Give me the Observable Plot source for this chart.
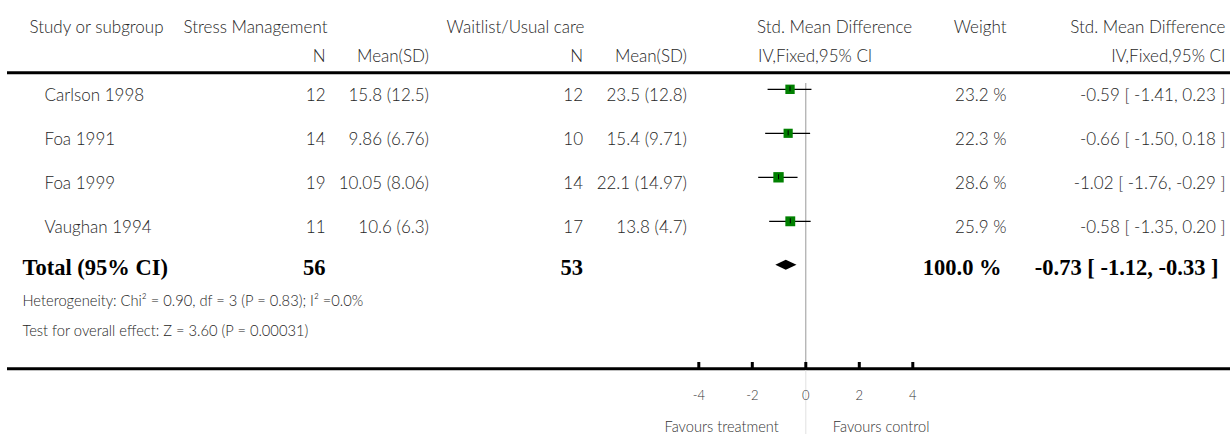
<!DOCTYPE html>
<html><head><meta charset="utf-8">
<script src="https://cdn.jsdelivr.net/npm/d3@7"></script>
<script src="https://cdn.jsdelivr.net/npm/@observablehq/plot@0.6"></script>
<style>
body{margin:0;background:#fff;}
g[aria-label="num"] text{letter-spacing:0.9px;}
g[aria-label="numbold"] text{letter-spacing:1.2px;}
</style>
</head><body><div id="chart"></div>
<script>
// ---- data ----
const studies = ["Carlson 1998", "Foa 1991", "Foa 1999", "Vaughan 1994"];
const expN = [12, 14, 19, 11];
const expMeanSD = ["15.8 (12.5)", "9.86 (6.76)", "10.05 (8.06)", "10.6 (6.3)"];
const ctrlN = [12, 10, 14, 17];
const ctrlMeanSD = ["23.5 (12.8)", "15.4 (9.71)", "22.1 (14.97)", "13.8 (4.7)"];
const smd = [-0.59, -0.66, -1.02, -0.58];
const ciLow = [-1.41, -1.50, -1.76, -1.35];
const ciHigh = [0.23, 0.18, -0.29, 0.20];
const weights = [23.2, 22.3, 28.6, 25.9];
const totalLabel = "Total (95% CI)";
const totalExpN = 56;
const totalCtrlN = 53;
const totalSMD = -0.73, totalLow = -1.12, totalHigh = -0.33;
const totalWeight = 100.0;
const heterogeneity = "Heterogeneity: Chi² = 0.90, df = 3 (P = 0.83); I² =0.0%";
const overallEffect = "Test for overall effect: Z = 3.60 (P = 0.00031)";
const xTicks = [-4, -2, 0, 2, 4];
const favoursLeft = "Favours treatment";
const favoursRight = "Favours control";
const header1 = {study: "Study or subgroup", exp: "Stress Management", ctrl: "Waitlist/Usual care", smd: "Std. Mean Difference", weight: "Weight"};
const header2 = {n: "N", mean: "Mean(SD)", method: "IV,Fixed,95% CI"};

// ---- layout ----
const W = 1230, H = 434, ML = 7;
const zeroPx = 805.3, pxPerUnit = 26.75;
const row0 = 88.8, rowStep = 44;
const py = px => (px - row0) / rowStep;
const fmt2 = v => v.toFixed(2);
const ciText = (e, l, h) => `${fmt2(e)} [ ${fmt2(l)}, ${fmt2(h)} ]`;

const rows = studies.map((s, i) => ({
  i, study: s, expN: expN[i], expM: expMeanSD[i], ctrlN: ctrlN[i], ctrlM: ctrlMeanSD[i],
  smd: smd[i], lo: ciLow[i], hi: ciHigh[i], w: weights[i],
  wText: weights[i].toFixed(1) + " %", ci: ciText(smd[i], ciLow[i], ciHigh[i])
}));
const totalRow = rows.length;

const sans = "Lato, 'Open Sans', sans-serif";
const serif = "'Liberation Serif', 'Times New Roman', serif";
const txtColor = "#262626";

// text column helper: px is left (start) or right (end) edge in pixels
function col(data, text, px, anchor, yVal, dy, extra = {}) {
  return Plot.text(data, {
    text, y: yVal, frameAnchor: "left", dx: px - ML, dy,
    textAnchor: anchor, lineAnchor: "bottom", fill: txtColor,
    fontSize: 17, fontFamily: sans, fontWeight: 300, ...extra
  });
}

const rowY = d => d.i;
const bold = {fontFamily: serif, fontWeight: "bold", fontSize: 22.5, fill: "#000"};
const num = {ariaLabel: "num"};
const numBold = {...bold, ariaLabel: "numbold"};

const diamond = [
  {x: totalLow, y1: totalRow, y2: totalRow},
  {x: totalSMD, y1: totalRow - 5 / rowStep, y2: totalRow + 5 / rowStep},
  {x: totalHigh, y1: totalRow, y2: totalRow}
];

const chart = Plot.plot({
  width: W, height: H,
  marginLeft: ML, marginRight: 0, marginTop: 0, marginBottom: 0,
  x: {domain: [(ML - zeroPx) / pxPerUnit, (W - zeroPx) / pxPerUnit], axis: null},
  y: {domain: [py(0), py(H)], reverse: true, axis: null},
  r: {domain: [0, 30], range: [0, 6]},
  style: {fontFamily: sans, background: "#fff"},
  marks: [
    // header texts
    col([header1], d => d.study, 29, "start", py(32), 0),
    col([header1], d => d.exp, 183, "start", py(32), 0),
    col([header1], d => d.ctrl, 446, "start", py(32), 0),
    col([header1], d => d.smd, 756.5, "start", py(32), 0),
    col([header1], d => d.weight, 1006, "end", py(32), 0),
    col([header1], d => d.smd, 1225, "end", py(32), 0),
    col([header2], d => d.n, 325, "end", py(61), 0),
    col([header2], d => d.mean, 428.5, "end", py(61), 0),
    col([header2], d => d.n, 582.5, "end", py(61), 0),
    col([header2], d => d.mean, 686.5, "end", py(61), 0),
    col([header2], d => d.method, 757.5, "start", py(61), 0),
    col([header2], d => d.method, 1225, "end", py(61), 0),
    // header & axis rules
    Plot.ruleY([py(72.3)], {stroke: "#000", strokeWidth: 3}),
    Plot.ruleY([py(368.3)], {stroke: "#000", strokeWidth: 3}),
    // zero line
    Plot.ruleX([0], {y1: py(83), y2: py(367), stroke: "#999", strokeWidth: 1}),
    Plot.ruleX([0], {y1: py(370), y2: py(H), stroke: "#e2e2e2", strokeWidth: 1}),
    // ticks
    Plot.ruleX(xTicks, {x: d => d, y1: py(362), y2: py(368), stroke: "#000", strokeWidth: 3}),
    Plot.text(xTicks, {x: d => d, y: py(399.5), text: d => String(d), lineAnchor: "bottom",
      fontSize: 13, fontFamily: sans, fontWeight: 300, fill: "#333"}),
    Plot.text([favoursLeft], {x: () => 0, y: py(431), text: d => d, dx: -27, textAnchor: "end",
      lineAnchor: "bottom", fontSize: 14.6, fontFamily: sans, fontWeight: 300, fill: "#333"}),
    Plot.text([favoursRight], {x: () => 0, y: py(431), text: d => d, dx: 27, textAnchor: "start",
      lineAnchor: "bottom", fontSize: 14.6, fontFamily: sans, fontWeight: 300, fill: "#333"}),
    // study rows
    col(rows, "study", 44, "start", rowY, 11.5),
    col(rows, "expN", 325, "end", rowY, 11.5, num),
    col(rows, "expM", 428.5, "end", rowY, 11.5, num),
    col(rows, "ctrlN", 582.5, "end", rowY, 11.5, num),
    col(rows, "ctrlM", 686.5, "end", rowY, 11.5, num),
    col(rows, "wText", 1006, "end", rowY, 11.5, num),
    col(rows, "ci", 1225, "end", rowY, 11.5, num),
    // forest marks
    Plot.ruleY(rows, {y: rowY, x1: "lo", x2: "hi", stroke: "#000", strokeWidth: 1.2}),
    Plot.dot(rows, {x: "smd", y: rowY, r: "w", symbol: "square", fill: "#008000", stroke: "none"}),
    Plot.ruleX(rows, {x: "smd", y1: d => d.i - 2.5 / rowStep, y2: d => d.i + 2.5 / rowStep, stroke: "#000", strokeWidth: 1}),
    Plot.areaY(diamond, {x: "x", y1: "y1", y2: "y2", fill: "#000"}),
    // total row
    col([totalLabel], d => d, 22, "start", totalRow, 10, bold),
    col([totalExpN], d => String(d), 325, "end", totalRow, 10, bold),
    col([totalCtrlN], d => String(d), 582.5, "end", totalRow, 10, bold),
    col([totalWeight], d => d.toFixed(1) + " %", 1001, "end", totalRow, 10, bold),
    col([ciText(totalSMD, totalLow, totalHigh)], d => d, 1218, "end", totalRow, 10, numBold),
    // footnotes
    col([heterogeneity], d => d, 22, "start", py(305), 0, {fontSize: 14.7}),
    col([overallEffect], d => d, 22, "start", py(335), 0, {fontSize: 14.7})
  ]
});
document.getElementById("chart").appendChild(chart);
</script>
</body></html>
